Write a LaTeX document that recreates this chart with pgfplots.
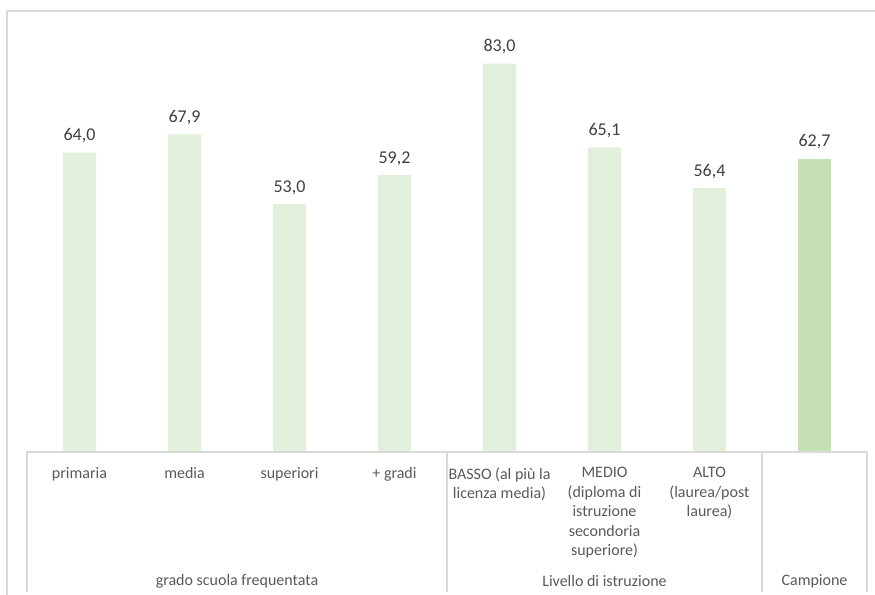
\documentclass[border=0pt]{standalone}
\usepackage{pgfplots}
\pgfplotsset{compat=1.18}
\usepackage{fontspec}
\setmainfont{Carlito}
\definecolor{barlight}{HTML}{E2EFDA}
\definecolor{bardark}{HTML}{C5E0B4}
\definecolor{valtext}{HTML}{404040}
\definecolor{labtext}{HTML}{595959}
\definecolor{framegray}{HTML}{D9D9D9}

\begin{document}
\begin{tikzpicture}[x=0.75pt,y=0.75pt]
\useasboundingbox (0,0) rectangle (875,595);
\clip (0,0) rectangle (875,595);
% outer chart frame
\draw[framegray, line width=1.2pt] (7,584) rectangle (920,-40);
\begin{axis}[
  at={(20.25pt,107.25pt)}, anchor=south west,
  scale only axis, width=630pt, height=315.75pt,
  xmin=-0.5, xmax=7.5, ymin=0, ymax=90,
  axis line style={draw=none},
  ytick=\empty,
  xtick={0,...,7},
  major tick length=0pt,
  xticklabels={primaria, media, superiori, + gradi,
    {BASSO (al più la\\licenza media)},
    {MEDIO\\(diploma di\\istruzione\\secondoria\\superiore)},
    {ALTO\\(laurea/post\\laurea)}, {}},
  xticklabel style={font=\fontsize{12}{14.6}\selectfont, text=labtext,
    align=center, anchor=north, inner sep=0pt, yshift=-11.5pt},
  ybar, bar width=24.75pt,
  nodes near coords,
  every node near coord/.append style={font=\fontsize{13.5}{16}\selectfont,
    text=valtext, inner sep=4pt, yshift=3pt},
  /pgf/number format/.cd, fixed, fixed zerofill, precision=1, use comma,
  assume math mode=true,
]
\addplot[draw=none, fill=barlight, bar shift=0pt] coordinates {
  (0,64.0) (1,67.9) (2,53.0) (3,59.2) (4,83.0) (5,65.1) (6,56.4)};
\addplot[draw=none, fill=bardark, bar shift=0pt] coordinates {(7,62.7)};
\end{axis}
% category box below the bars
\draw[framegray, line width=0.8pt] (27,3) -- (27,143) -- (867,143) -- (867,3);
\draw[framegray, line width=0.8pt] (447,143) -- (447,3);
\draw[framegray, line width=0.8pt] (762,143) -- (762,3);
\begin{scope}[every node/.style={font=\fontsize{12}{16}\selectfont, text=labtext}]
\node at (237,14) {grado scuola frequentata};
\node at (604.5,14) {Livello di istruzione};
\node at (814.5,14) {Campione};
\end{scope}
\end{tikzpicture}
\end{document}
